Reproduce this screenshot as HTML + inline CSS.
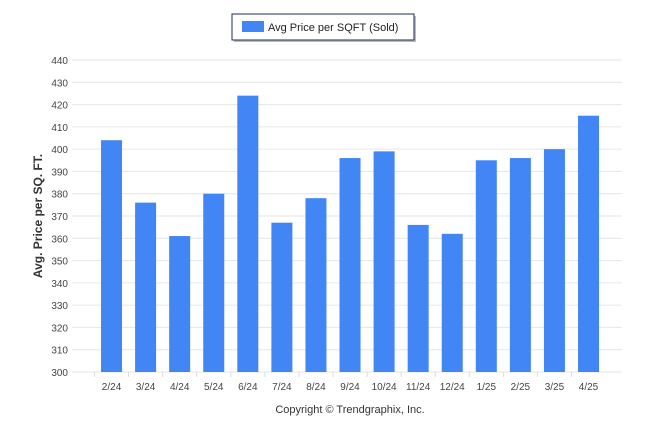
<!DOCTYPE html>
<html><head><meta charset="utf-8"><style>
body{margin:0;background:#fff;font-family:"Liberation Sans",sans-serif}
svg text{font-family:"Liberation Sans",sans-serif}
</style></head><body>
<svg width="646" height="434">
<g>
<rect x="234" y="16" width="182" height="26" fill="#777" opacity="0.5"/>
<rect x="232" y="14" width="182" height="26" fill="#fff" stroke="#1f2d4f" stroke-width="1"/>
<rect x="242" y="21" width="22" height="11" fill="#4285f4"/>
<text x="268" y="31" font-size="11" fill="#222">Avg Price per SQFT (Sold)</text>
</g>
<g id="grid"></g><g id="bars"></g><g id="xl"></g>
<text transform="translate(42,216) rotate(-90)" text-anchor="middle" font-size="12" font-weight="bold" fill="#333">Avg. Price per SQ. FT.</text>
<text x="350" y="413" text-anchor="middle" font-size="11" fill="#333">Copyright © Trendgraphix, Inc.</text>
</svg>
<script>
const categories=["2/24","3/24","4/24","5/24","6/24","7/24","8/24","9/24","10/24","11/24","12/24","1/25","2/25","3/25","4/25"];
const values=[404,376,361,380,424,367,378,396,399,366,362,395,396,400,415];
const yTicks=[300,310,320,330,340,350,360,370,380,390,400,410,420,430,440];
const NS="http://www.w3.org/2000/svg";
const y0=372,y1=60,vmin=300,vmax=440;
const yS=v=>y0-(v-vmin)/(vmax-vmin)*(y0-y1);
const band=34.07,start=94.5;
const xS=i=>start+band*i+band/2;
function mk(t,a,p){const e=document.createElementNS(NS,t);for(const k in a)e.setAttribute(k,a[k]);p.appendChild(e);return e;}
const g=document.getElementById('grid'),b=document.getElementById('bars'),xl=document.getElementById('xl');
yTicks.forEach(t=>{
 const l=mk('line',{x1:72,x2:622,y1:yS(t),y2:yS(t),stroke:'#e6e6e6'},g);
 
 
 const tx=mk('text',{x:68,y:yS(t)+4,'text-anchor':'end','font-size':10,fill:'#444'},g);
 tx.textContent=t;
 
 
});
categories.forEach((c,i)=>{
 const r=mk('rect',{x:xS(i)-10.5,y:yS(values[i]),width:21,height:y0-yS(values[i]),fill:'#4285f4'},b);
 
 
 const tk=mk('line',{x1:xS(i)-band/2,x2:xS(i)-band/2,y1:y0,y2:y0+5,stroke:'#ddd'},xl);
 
 
 const t=mk('text',{x:xS(i),y:390,'text-anchor':'middle','font-size':10,fill:'#444'},xl);
 t.textContent=c;
 
 
});
</script>
</body></html>
